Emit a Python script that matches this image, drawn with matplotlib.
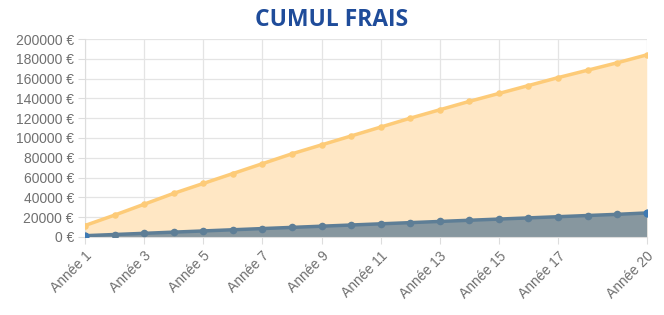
import numpy as np
import matplotlib.pyplot as plt

# data
years = [f'Année {i}' for i in range(1, 21)]
frais_total = [11500, 22000, 33000, 44000, 54000, 64000, 74000, 84000, 93000, 102000,
               111000, 120000, 128500, 137000, 145000, 153000, 161000, 168500, 176000, 184000]
frais_bas = [1200, 2400, 3600, 4800, 6000, 7200, 8400, 9600, 10800, 12000,
             13200, 14400, 15600, 16800, 18000, 19200, 20400, 21600, 22800, 24200]
tick_idx = [0, 2, 4, 6, 8, 10, 12, 14, 16, 19]
y_ticks = list(range(0, 200001, 20000))

plt.rcParams['font.family'] = ['Liberation Sans', 'DejaVu Sans']

fig = plt.figure(figsize=(6.64, 3.15), dpi=100)
ax = fig.add_axes([0.128, 0.248, 0.846, 0.628])

x = np.arange(len(years))

# orange series
ax.fill_between(x, 0, frais_total, color='#FFE7C4', zorder=1, lw=0)
ax.plot(x, frais_total, color='#FDCB78', lw=2.5, zorder=3)
ax.scatter(x, frais_total, s=22, color='#FDCB78', zorder=4, lw=0)

# blue/grey series
ax.fill_between(x, 0, frais_bas, color='#87979F', zorder=2, lw=0)
ax.plot(x, frais_bas, color='#5E7E96', lw=2.5, zorder=3)
ax.scatter(x, frais_bas, s=30, color='#5E7E96', zorder=4, lw=0)
ax.scatter([x[0], x[-1]], [frais_bas[0], frais_bas[-1]], s=34, color='#3F7AB3', zorder=5, lw=0)

ax.set_xlim(0, len(years) - 1)
ax.set_ylim(0, 200000)
ax.set_yticks(y_ticks)
ax.set_yticklabels([f'{v} €' for v in y_ticks])
ax.set_xticks(tick_idx)
ax.set_xticklabels([years[i] for i in tick_idx], rotation=45, ha='right',
                   rotation_mode='anchor')

ax.grid(True, color='#E4E4E4', lw=0.9, zorder=0)
ax.set_axisbelow(True)
for s in ax.spines.values():
    s.set_visible(False)
ax.spines['left'].set_visible(True)
ax.spines['left'].set_color('#DDDDDD')
ax.spines['bottom'].set_visible(True)
ax.spines['bottom'].set_color('#DDDDDD')
ax.tick_params(axis='both', colors='#DDDDDD', labelcolor='#707070', labelsize=10, length=5)
ax.tick_params(axis='y', pad=3)

fig.text(0.5, 0.937, 'CUMUL FRAIS', ha='center', va='center', fontsize=16.5,
         fontweight='bold', color='#1F4C9A', family=['Open Sans', 'DejaVu Sans'])

fig.savefig('out.png', dpi=100)
